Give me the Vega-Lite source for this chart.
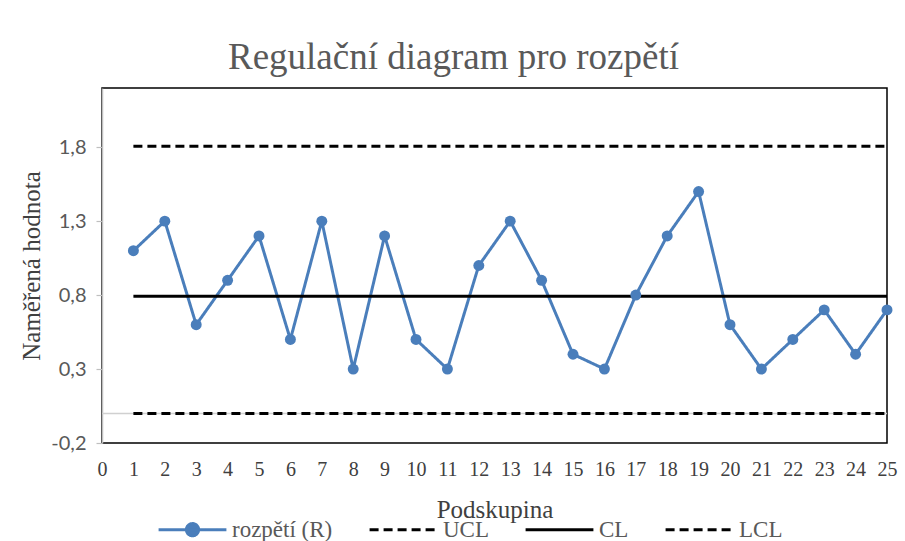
{
  "$schema": "https://vega.github.io/schema/vega-lite/v6.json",
  "width": 785,
  "height": 355,
  "autosize": {"type": "none"},
  "padding": {"left": 102, "top": 88, "right": 18, "bottom": 98},
  "background": "white",
  "config": {"view": {"stroke": "#000000", "strokeWidth": 1.5}},
  "title": {
    "text": "Regulační diagram pro rozpětí",
    "font": "Liberation Serif",
    "fontSize": 37,
    "fontWeight": "normal",
    "color": "#595959",
    "anchor": "middle",
    "offset": 11,
    "dx": -41
  },
  "datasets": {
    "r": [
      {"x": 1, "value": 1.1}, {"x": 2, "value": 1.3}, {"x": 3, "value": 0.6}, {"x": 4, "value": 0.9},
      {"x": 5, "value": 1.2}, {"x": 6, "value": 0.5}, {"x": 7, "value": 1.3}, {"x": 8, "value": 0.3},
      {"x": 9, "value": 1.2}, {"x": 10, "value": 0.5}, {"x": 11, "value": 0.3}, {"x": 12, "value": 1.0},
      {"x": 13, "value": 1.3}, {"x": 14, "value": 0.9}, {"x": 15, "value": 0.4}, {"x": 16, "value": 0.3},
      {"x": 17, "value": 0.8}, {"x": 18, "value": 1.2}, {"x": 19, "value": 1.5}, {"x": 20, "value": 0.6},
      {"x": 21, "value": 0.3}, {"x": 22, "value": 0.5}, {"x": 23, "value": 0.7}, {"x": 24, "value": 0.4},
      {"x": 25, "value": 0.7}
    ],
    "lines": [
      {"series": "rozpětí (R)", "x": 1, "value": 1.1}, {"series": "rozpětí (R)", "x": 2, "value": 1.3},
      {"series": "rozpětí (R)", "x": 3, "value": 0.6}, {"series": "rozpětí (R)", "x": 4, "value": 0.9},
      {"series": "rozpětí (R)", "x": 5, "value": 1.2}, {"series": "rozpětí (R)", "x": 6, "value": 0.5},
      {"series": "rozpětí (R)", "x": 7, "value": 1.3}, {"series": "rozpětí (R)", "x": 8, "value": 0.3},
      {"series": "rozpětí (R)", "x": 9, "value": 1.2}, {"series": "rozpětí (R)", "x": 10, "value": 0.5},
      {"series": "rozpětí (R)", "x": 11, "value": 0.3}, {"series": "rozpětí (R)", "x": 12, "value": 1.0},
      {"series": "rozpětí (R)", "x": 13, "value": 1.3}, {"series": "rozpětí (R)", "x": 14, "value": 0.9},
      {"series": "rozpětí (R)", "x": 15, "value": 0.4}, {"series": "rozpětí (R)", "x": 16, "value": 0.3},
      {"series": "rozpětí (R)", "x": 17, "value": 0.8}, {"series": "rozpětí (R)", "x": 18, "value": 1.2},
      {"series": "rozpětí (R)", "x": 19, "value": 1.5}, {"series": "rozpětí (R)", "x": 20, "value": 0.6},
      {"series": "rozpětí (R)", "x": 21, "value": 0.3}, {"series": "rozpětí (R)", "x": 22, "value": 0.5},
      {"series": "rozpětí (R)", "x": 23, "value": 0.7}, {"series": "rozpětí (R)", "x": 24, "value": 0.4},
      {"series": "rozpětí (R)", "x": 25, "value": 0.7},
      {"series": "UCL", "x": 1, "value": 1.807}, {"series": "UCL", "x": 25, "value": 1.807},
      {"series": "CL", "x": 1, "value": 0.792}, {"series": "CL", "x": 25, "value": 0.792},
      {"series": "LCL", "x": 1, "value": 0}, {"series": "LCL", "x": 25, "value": 0}
    ],
    "axisline": [{"value": 0}]
  },
  "encoding": {
    "x": {
      "field": "x",
      "type": "quantitative",
      "scale": {"domain": [0, 25], "nice": false},
      "axis": {
        "values": [0,1,2,3,4,5,6,7,8,9,10,11,12,13,14,15,16,17,18,19,20,21,22,23,24,25],
        "format": "d",
        "grid": false,
        "domain": false,
        "ticks": false,
        "labelFont": "Liberation Serif",
        "labelFontSize": 20,
        "labelColor": "#404040",
        "labelPadding": 16,
        "labelFlush": false,
        "labelOverlap": false,
        "title": "Podskupina",
        "titleFont": "Liberation Serif",
        "titleFontSize": 25,
        "titleFontWeight": "normal",
        "titleColor": "#404040",
        "titlePadding": 18
      }
    },
    "y": {
      "field": "value",
      "type": "quantitative",
      "scale": {"domain": [-0.2, 2.2], "nice": false, "zero": false},
      "axis": {
        "values": [-0.2, 0.3, 0.8, 1.3, 1.8],
        "labelExpr": "replace(replace(format(datum.value, '.1f'), '.', ','), '−', '-')",
        "grid": false,
        "domainColor": "#bfbfbf",
        "domainWidth": 1.5,
        "tickColor": "#bfbfbf",
        "tickSize": 6,
        "tickWidth": 1.2,
        "labelFont": "Lato",
        "labelFontSize": 20,
        "labelColor": "#595959",
        "labelPadding": 10,
        "title": "Naměřená hodnota",
        "titleFont": "Liberation Serif",
        "titleFontSize": 25,
        "titleFontWeight": "normal",
        "titleColor": "#404040",
        "titlePadding": 6
      }
    }
  },
  "layer": [
    {
      "data": {"name": "axisline"},
      "mark": {"type": "rule", "color": "#d0d0d0", "strokeWidth": 1.5},
      "encoding": {"x": null}
    },
    {
      "data": {"name": "lines"},
      "mark": {"type": "line", "strokeWidth": 3, "strokeCap": "butt"},
      "encoding": {
        "color": {
          "field": "series",
          "type": "nominal",
          "sort": ["rozpětí (R)", "UCL", "CL", "LCL"],
          "scale": {"domain": ["rozpětí (R)", "UCL", "CL", "LCL"], "range": ["#4a7ebb", "#000000", "#000000", "#000000"]},
          "legend": {
            "orient": "none",
            "legendX": 55,
            "legendY": 406,
            "direction": "horizontal",
            "title": null,
            "padding": 0,
            "symbolType": "M-1,0H1",
            "symbolSize": 4600,
            "symbolStrokeWidth": 3,
            "labelFont": "Liberation Serif",
            "labelFontSize": 23,
            "labelColor": "#595959",
            "labelOffset": 4,
            "columnPadding": 30,
            "encode": {
              "symbols": {
                "update": {
                  "shape": {"signal": "datum.value === 'rozpětí (R)' ? 'M-1,0H1M0.18,0A0.18,0.18,0,1,1,-0.18,0A0.18,0.18,0,1,1,0.18,0' : 'M-1,0H1'"},
                  "fill": {"signal": "datum.value === 'rozpětí (R)' ? '#4a7ebb' : 'transparent'"},
                  "strokeDash": {"signal": "(datum.value === 'UCL' || datum.value === 'LCL') ? [9, 5] : [1, 0]"}
                }
              }
            }
          }
        },
        "strokeDash": {
          "field": "series",
          "type": "nominal",
          "scale": {"domain": ["rozpětí (R)", "UCL", "CL", "LCL"], "range": [[1, 0], [9, 5], [1, 0], [9, 5]]},
          "legend": null
        },
        "order": {"field": "x", "type": "quantitative"}
      }
    },
    {
      "data": {"name": "r"},
      "mark": {"type": "circle", "size": 120, "color": "#4a7ebb", "opacity": 1}
    }
  ]
}
